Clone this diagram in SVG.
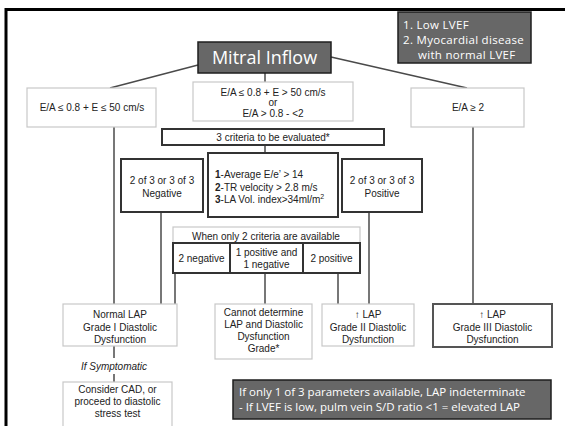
<svg xmlns="http://www.w3.org/2000/svg" width="565" height="426" viewBox="0 0 565 426">
<style>
.t{font-family:"Liberation Sans",Arial,sans-serif;font-size:10px;fill:#222;text-anchor:middle}
.s{font-family:"Liberation Sans",Arial,sans-serif;font-size:10px;fill:#222;text-anchor:start}
.w{font-family:"Open Sans","Noto Sans",sans-serif;fill:#fff}
.lb{fill:#fff;stroke:#c8c8c8;stroke-width:1.2}
.tb{fill:#fff;stroke:#333;stroke-width:2}
.db{fill:#676767;stroke:#1e1e1e;stroke-width:1.5}
.c line{stroke:#4a4a4a;stroke-width:1.5}
</style>
<rect width="565" height="426" fill="#fff"/>
<g id="frame"><line x1="5" y1="9.5" x2="565" y2="9.5" stroke="#000" stroke-width="3"/><line x1="6" y1="8" x2="6" y2="426" stroke="#000" stroke-width="3"/></g>
<g class="c" id="connectors">
<line x1="198" y1="65" x2="110" y2="88"/>
<line x1="331" y1="57" x2="467" y2="88"/>
<line x1="265" y1="73" x2="265" y2="82"/>
<line x1="114" y1="127" x2="114" y2="304"/>
<line x1="473" y1="127" x2="473" y2="304"/>
<line x1="265" y1="145" x2="265" y2="153"/>
<line x1="161" y1="212" x2="161" y2="304"/>
<line x1="369" y1="212" x2="369" y2="304"/>
<line x1="175" y1="273" x2="175" y2="304"/>
<line x1="265" y1="273" x2="265" y2="304"/>
<line x1="338" y1="273" x2="338" y2="304"/>
<line x1="114" y1="346" x2="114" y2="358"/>
<line x1="114" y1="374" x2="114" y2="382"/>
</g>
<g id="note-top"><rect class="db" x="398" y="12" width="133" height="51"/>
<text class="w" font-size="11.5" letter-spacing="0.3" x="403" y="29">1. Low LVEF</text>
<text class="w" font-size="11.5" letter-spacing="0.3" x="403" y="44">2. Myocardial disease</text>
<text class="w" font-size="11.5" letter-spacing="0.3" x="418" y="59">with normal LVEF</text></g>
<g id="mitral"><rect class="db" x="198" y="42" width="133" height="31"/>
<text class="w" font-size="18" x="264.5" y="64" text-anchor="middle">Mitral Inflow</text></g>
<g id="left-box"><rect class="lb" x="27" y="88" width="129" height="39"/>
<text class="t" x="92" y="111">E/A ≤ 0.8 + E ≤ 50 cm/s</text></g>
<g id="mid-box"><rect class="lb" x="193" y="82" width="160" height="39"/>
<text class="t" x="273" y="95.5">E/A ≤ 0.8 + E &gt; 50 cm/s</text>
<text class="t" x="273" y="106">or</text>
<text class="t" x="273" y="117">E/A &gt; 0.8 - &lt;2</text></g>
<g id="right-box"><rect class="lb" x="411" y="88" width="113" height="39"/>
<text class="t" x="468" y="111">E/A ≥ 2</text></g>
<g id="criteria3"><rect class="tb" x="162" y="129" width="222" height="16"/>
<text class="t" x="273" y="141">3 criteria to be evaluated*</text></g>
<g id="neg"><rect class="tb" x="121" y="159" width="82" height="53"/>
<text class="t" x="162" y="183.5">2 of 3 or 3 of 3</text><text class="t" x="162" y="196.5">Negative</text></g>
<g id="crit"><rect class="tb" x="208" y="153" width="130" height="64"/>
<text class="s" x="215" y="178"><tspan font-weight="bold">1</tspan>-Average E/e’ &gt; 14</text>
<text class="s" x="215" y="190.5"><tspan font-weight="bold">2</tspan>-TR velocity &gt; 2.8 m/s</text>
<text class="s" x="215" y="203"><tspan font-weight="bold">3</tspan>-LA Vol. index&gt;34ml/m<tspan font-size="7" dy="-4">2</tspan></text></g>
<g id="pos"><rect class="tb" x="342" y="159" width="80" height="53"/>
<text class="t" x="382" y="183.5">2 of 3 or 3 of 3</text><text class="t" x="382" y="196.5">Positive</text></g>
<g id="two-avail"><rect class="lb" x="173" y="227" width="187" height="16"/>
<text class="t" x="266" y="239.5">When only 2 criteria are available</text></g>
<g id="row2"><rect class="tb" x="173" y="243" width="187" height="30"/>
<line x1="230" y1="243" x2="230" y2="273" stroke="#333" stroke-width="2"/>
<line x1="303" y1="243" x2="303" y2="273" stroke="#333" stroke-width="2"/>
<text class="t" x="201.5" y="261.5">2 negative</text>
<text class="t" x="266.5" y="256">1 positive and</text><text class="t" x="266.5" y="268">1 negative</text>
<text class="t" x="331.5" y="261.5">2 positive</text></g>
<g id="grade1"><rect class="lb" x="63" y="304" width="114" height="42"/>
<text class="t" x="120" y="317.5">Normal  LAP</text><text class="t" x="120" y="330.5">Grade I Diastolic</text><text class="t" x="120" y="342.5">Dysfunction</text></g>
<text class="t" x="114" y="369.5" font-style="italic">If Symptomatic</text>
<g id="consider"><rect class="lb" x="63" y="382" width="109" height="50"/>
<text class="t" x="117.5" y="392.5">Consider CAD, or</text><text class="t" x="117.5" y="404.5">proceed to diastolic</text><text class="t" x="117.5" y="416.5">stress  test</text></g>
<g id="cannot"><rect class="lb" x="215" y="304" width="97" height="55"/>
<text class="t" x="263.5" y="316">Cannot determine</text><text class="t" x="263.5" y="328">LAP and Diastolic</text><text class="t" x="263.5" y="340">Dysfunction</text><text class="t" x="263.5" y="352">Grade*</text></g>
<g id="grade2"><rect class="lb" x="322" y="304" width="92" height="42"/>
<text class="t" x="368" y="317.5">↑ LAP</text><text class="t" x="368" y="330.5">Grade II Diastolic</text><text class="t" x="368" y="342.5">Dysfunction</text></g>
<g id="grade3"><rect x="433" y="304" width="119" height="43" fill="#fff" stroke="#555" stroke-width="2"/>
<text class="t" x="492.5" y="317.5">↑ LAP</text><text class="t" x="492.5" y="330.5">Grade III Diastolic</text><text class="t" x="492.5" y="342.5">Dysfunction</text></g>
<g id="note-bottom"><rect class="db" x="233" y="380" width="318" height="39"/>
<text class="w" font-size="11.5" x="239" y="396">If only 1 of 3 parameters available, LAP indeterminate</text>
<text class="w" font-size="11.5" x="239" y="411">- If LVEF is low, pulm vein S/D ratio &lt;1 = elevated LAP</text></g>
</svg>
